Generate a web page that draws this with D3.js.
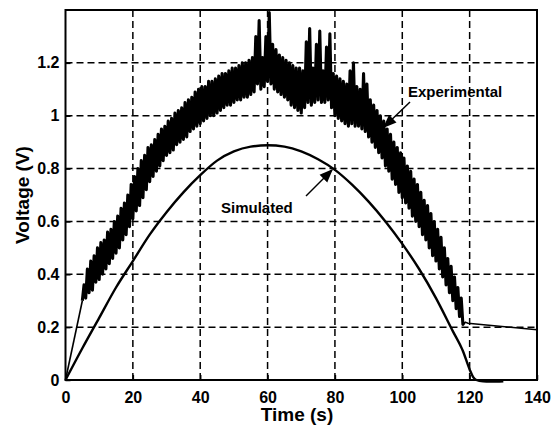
<!DOCTYPE html>
<html><head><meta charset="utf-8">
<script src="https://cdn.jsdelivr.net/npm/d3@7"></script>
<style>body{margin:0;background:#fff}svg{display:block}</style>
</head><body><svg id="c" width="556" height="426"></svg>
<script>
// ---- data ----
const xTicks = [0,20,40,60,80,100,120,140];
const yTicks = [0,0.2,0.4,0.6,0.8,1,1.2];
const yTickLabels = ["0","0.2","0.4","0.6","0.8","1","1.2"];

const simTime = [0,5,10,15,20,25,30,35,40,45,50,55,60,65,70,75,80,85,90,95,100,105,110,115,118,120,121,122,124,126,128,130];
const simVolt = [0,0.12,0.235,0.35,0.45,0.55,0.635,0.71,0.775,0.83,0.865,0.883,0.888,0.883,0.865,0.835,0.795,0.74,0.675,0.6,0.515,0.42,0.31,0.185,0.11,0.04,0.012,0.0,-0.005,-0.006,-0.006,-0.005];

const expHeadTime = [0,5];
const expHeadVolt = [0,0.30];
// noisy section, sampled every 0.5 s from 5.0 s to 118.5 s
const expNoisyStart = 5, expNoisyStep = 0.5;
const expNoisyVolt = [
0.30,0.36,0.31,0.42,0.33,0.45,0.34,0.47,0.37,0.50,
0.38,0.52,0.40,0.53,0.42,0.56,0.44,0.57,0.46,0.60,
0.48,0.62,0.50,0.65,0.53,0.67,0.55,0.70,0.58,0.74,
0.61,0.77,0.64,0.80,0.66,0.83,0.69,0.85,0.72,0.88,
0.75,0.89,0.77,0.91,0.79,0.93,0.81,0.95,0.83,0.96,
0.85,0.98,0.86,0.99,0.87,1.01,0.89,1.02,0.90,1.03,
0.91,1.05,0.92,1.06,0.94,1.07,0.95,1.09,0.96,1.10,
0.97,1.11,0.98,1.11,0.99,1.13,1.00,1.13,1.00,1.14,
1.01,1.15,1.02,1.16,1.03,1.16,1.04,1.17,1.04,1.18,
1.05,1.18,1.06,1.19,1.06,1.20,1.07,1.20,1.07,1.21,
1.08,1.22,1.09,1.30,1.12,1.36,1.10,1.22,1.11,1.30,
1.13,1.39,1.12,1.27,1.10,1.25,1.09,1.23,1.08,1.22,
1.07,1.21,1.06,1.20,1.04,1.19,1.03,1.18,1.02,1.18,
1.01,1.17,1.03,1.28,1.05,1.33,1.04,1.18,1.05,1.27,
1.06,1.32,1.05,1.17,1.05,1.26,1.06,1.31,1.03,1.16,
1.00,1.15,0.99,1.14,0.98,1.13,0.97,1.12,0.96,1.17,
0.97,1.20,0.96,1.11,0.96,1.10,0.95,1.16,0.94,1.12,
0.92,1.06,0.90,1.04,0.88,1.02,0.86,1.00,0.84,0.98,
0.81,0.95,0.79,0.93,0.76,0.90,0.74,0.88,0.71,0.86,
0.69,0.84,0.67,0.81,0.65,0.79,0.62,0.76,0.60,0.74,
0.58,0.71,0.55,0.68,0.53,0.66,0.50,0.63,0.47,0.60,
0.45,0.57,0.42,0.54,0.39,0.50,0.36,0.46,0.33,0.43,
0.30,0.39,0.27,0.35,0.24,0.31,0.21,0.22
];
const expTailTime = [119.5,140];
const expTailVolt = [0.215,0.19];

// ---- layout ----
const svg = d3.select("#c");
const L = 65.5, R = 537, T = 10, B = 380;
const x = d3.scaleLinear().domain([0,140]).range([L,R]);
const y = d3.scaleLinear().domain([0,1.4]).range([B,T]);
const font = "Arial, 'Liberation Sans', sans-serif";

// grid
const g = svg.append("g");
g.selectAll(".vg").data(xTicks.slice(1,-1)).enter().append("line")
  .attr("x1",d=>x(d)).attr("x2",d=>x(d)).attr("y1",T).attr("y2",B)
  .attr("stroke","#000").attr("stroke-width",1.5).attr("stroke-dasharray","7,4");
g.selectAll(".hg").data(yTicks.slice(1)).enter().append("line")
  .attr("y1",d=>y(d)).attr("y2",d=>y(d)).attr("x1",L).attr("x2",R)
  .attr("stroke","#000").attr("stroke-width",1.5).attr("stroke-dasharray","7,4");

// clip
svg.append("clipPath").attr("id","clp").append("rect")
  .attr("x",L).attr("y",T).attr("width",R-L).attr("height",B-T);

// experimental
const line = d3.line().x(d=>x(d[0])).y(d=>y(d[1]));
const headPts = expHeadTime.map((t,i)=>[t,expHeadVolt[i]]);
const noisyPts = expNoisyVolt.map((v,i)=>[expNoisyStart+i*expNoisyStep, v]);
const tailPts = [noisyPts[noisyPts.length-1]].concat(expTailTime.map((t,i)=>[t,expTailVolt[i]]));
svg.append("path").attr("d",line(headPts))
  .attr("fill","none").attr("stroke","#000").attr("stroke-width",1.6);
svg.append("path").attr("clip-path","url(#clp)").attr("d",line(noisyPts))
  .attr("fill","none").attr("stroke","#000").attr("stroke-width",3.1).attr("stroke-linejoin","round");
svg.append("path").attr("d",line(tailPts))
  .attr("fill","none").attr("stroke","#000").attr("stroke-width",1.5);

// simulated
const simPts = simTime.map((t,i)=>[t,simVolt[i]]);
svg.append("path").attr("d",d3.line().curve(d3.curveMonotoneX).x(d=>x(d[0])).y(d=>y(d[1]))(simPts))
  .attr("fill","none").attr("stroke","#000").attr("stroke-width",2.4);

// frame
svg.append("rect").attr("x",L).attr("y",T).attr("width",R-L).attr("height",B-T)
  .attr("fill","none").attr("stroke","#000").attr("stroke-width",2);

// axes
const xAx = svg.append("g").attr("transform",`translate(0,${B})`)
  .call(d3.axisBottom(x).tickValues(xTicks).tickSize(-5).tickPadding(9).tickFormat(d3.format("d")));
const yAx = svg.append("g").attr("transform",`translate(${L},0)`)
  .call(d3.axisLeft(y).tickValues(yTicks).tickSize(-5).tickPadding(6).tickFormat((d,i)=>yTickLabels[i]));
[xAx,yAx].forEach(a=>{
  a.select(".domain").remove();
  a.selectAll("line").attr("stroke","#000").attr("stroke-width",1.5);
  a.selectAll("text").attr("fill","#000").style("font-family",font).style("font-size","16px").style("font-weight","bold");
});
xAx.selectAll("text").attr("dy","0.85em");

// axis titles
svg.append("text").attr("x",297).attr("y",421).attr("text-anchor","middle")
  .style("font-family",font).style("font-size","19px").style("font-weight","bold").text("Time (s)");
svg.append("text").attr("transform","translate(29,195) rotate(-90)").attr("text-anchor","middle")
  .style("font-family",font).style("font-size","19px").style("font-weight","bold").text("Voltage (V)");

// annotations
const defs = svg.append("defs");
defs.append("marker").attr("id","ah").attr("viewBox","0 0 10 10").attr("refX",9).attr("refY",5)
  .attr("markerWidth",9).attr("markerHeight",9).attr("orient","auto")
  .append("path").attr("d","M0,1 L10,5 L0,9 Z").attr("fill","#000");
svg.append("text").attr("x",408).attr("y",97).style("font-family",font).style("font-size","15px")
  .style("font-weight","bold").text("Experimental");
svg.append("line").attr("x1",410).attr("y1",102).attr("x2",384).attr("y2",127)
  .attr("stroke","#000").attr("stroke-width",1.5).attr("marker-end","url(#ah)");
svg.append("text").attr("x",221).attr("y",213).style("font-family",font).style("font-size","15px")
  .style("font-weight","bold").text("Simulated");
svg.append("line").attr("x1",306).attr("y1",196).attr("x2",332).attr("y2",170)
  .attr("stroke","#000").attr("stroke-width",1.5).attr("marker-end","url(#ah)");
</script></body></html>
